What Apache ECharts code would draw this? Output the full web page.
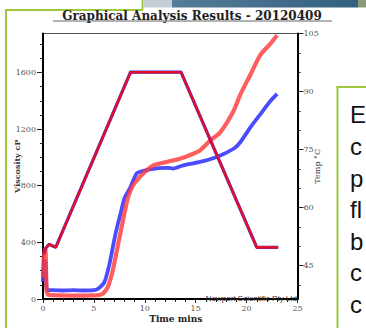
<!DOCTYPE html>
<html><head><meta charset="utf-8">
<script src="https://cdn.jsdelivr.net/npm/echarts@6/dist/echarts.min.js"></script>
<style>html,body{margin:0;padding:0;background:#fff}#c{width:366px;height:328px}</style>
</head><body><div id="c"></div>
<script>
// ---- data ----
const viscRedTime = [0, 0.1, 0.25, 0.35, 0.5, 1, 2, 3, 4, 5, 5.5, 5.87, 6.36, 6.85, 7.18, 7.51, 7.84, 8.33, 8.86, 9.52, 10.18, 10.83, 12.15, 13.46, 14.77, 15.43, 16.42, 17.41, 18.72, 19.38, 20.37, 21.35, 22.3, 23.0];
const viscRed     = [150, 350, 340, 60, 30, 27, 25, 24, 24, 25, 28, 37, 84, 200, 316, 433, 549, 712, 805, 863, 909, 944, 968, 991, 1026, 1049, 1119, 1177, 1328, 1444, 1584, 1724, 1800, 1863];
const viscBlueTime = [0, 0.1, 0.25, 0.35, 0.5, 1, 2, 3, 4, 5, 5.37, 6.03, 6.53, 6.85, 7.18, 7.67, 8.0, 8.53, 9.19, 9.52, 10.5, 12.15, 12.8, 13.79, 15.43, 17.08, 18.72, 19.38, 20.37, 21.35, 22.34, 23.0];
const viscBlue     = [120, 270, 260, 75, 62, 62, 60, 62, 60, 62, 70, 119, 246, 363, 479, 619, 712, 782, 886, 898, 916, 926, 921, 944, 968, 1003, 1061, 1107, 1212, 1305, 1398, 1449];
const tempTime = [0.05, 0.3, 0.6, 1.25, 8.6, 13.56, 21.0, 23.1];
const temp     = [48, 49.6, 50.5, 49.7, 95, 95, 49.7, 49.7];

const timeTickLabels = [0, 5, 10, 15, 20, 25];
const viscTickLabels = [0, 400, 800, 1200, 1600];
const tempTickLabels = [45, 60, 75, 90, 105];

const titleText = 'Graphical Analysis Results - 20120409';
const xName = 'Time mins';
const yLeftName = 'Viscosity cP';
const yRightName = 'Temp °C';
const creditText = 'Newport Scientific Pty Ltd';
const sideText = ['E', 'c', 'p', 'fl', 'b', 'c', 'c'];

// ---- helpers ----
const zip = (a, b) => a.map((v, i) => [v, b[i]]);
const viscMinor = []; for (let v = 0; v <= 1800; v += 100) viscMinor.push(v);
const tempMinor = []; for (let v = 40; v <= 105; v += 5) tempMinor.push(v);
const plain = v => String(v);

const serif = 'DejaVu Serif';
const labelStyle = { fontFamily: serif, fontSize: 8, color: '#555', formatter: plain };
const green = '#9fc93c';

const chart = echarts.init(document.getElementById('c'), null, { renderer: 'svg' });
chart.setOption({
  animation: false,
  backgroundColor: '#fff',
  grid: { left: 43, right: 68.5, top: 33.5, bottom: 26, show: true, borderColor: '#555', borderWidth: 1, backgroundColor: 'transparent' },
  xAxis: {
    type: 'value', min: 0, max: 25, interval: 5,
    name: xName, nameLocation: 'middle', nameGap: 15, nameMoveOverlap: false,
    nameTextStyle: { fontFamily: serif, fontSize: 9, fontWeight: 'bold', color: '#222', padding: [0, 0, 0, 11] },
    axisLine: { show: true, onZero: false, lineStyle: { color: '#000', width: 2 } },
    axisTick: { show: true, length: 4, lineStyle: { color: '#222' } },
    minorTick: { show: true, splitNumber: 5, length: 3, lineStyle: { color: '#222' } },
    axisLabel: { ...labelStyle, margin: 5, customValues: timeTickLabels },
    splitLine: { show: false }, minorSplitLine: { show: false }
  },
  yAxis: [
    {
      type: 'value', min: 0, max: 1875, position: 'left',
      name: yLeftName, nameLocation: 'middle', nameGap: 22, nameRotate: 90, nameMoveOverlap: false,
      nameTextStyle: { fontFamily: serif, fontSize: 8, fontWeight: 'bold', color: '#333' },
      axisLine: { show: true, onZero: false, lineStyle: { color: '#000', width: 2 } },
      axisTick: { show: true, customValues: viscMinor, length: 3, lineStyle: { color: '#222' } },
      axisLabel: { ...labelStyle, margin: 7, customValues: viscTickLabels },
      splitLine: { show: false }
    },
    {
      type: 'value', min: 36.36, max: 105, position: 'right',
      name: yRightName, nameLocation: 'middle', nameGap: 16, nameRotate: 90, nameMoveOverlap: false,
      nameTextStyle: { fontFamily: serif, fontSize: 8, color: '#333' },
      axisLine: { show: true, onZero: false, lineStyle: { color: '#000', width: 2 } },
      axisTick: { show: true, customValues: tempMinor, length: 3, lineStyle: { color: '#222' } },
      axisLabel: { ...labelStyle, margin: 6, customValues: tempTickLabels },
      splitLine: { show: false }
    },
    {
      type: 'value', min: 0, max: 1875, position: 'left',
      axisLine: { show: false }, axisLabel: { show: false }, splitLine: { show: false },
      axisTick: { show: true, customValues: viscTickLabels, length: 6, lineStyle: { color: '#222' } }
    },
    {
      type: 'value', min: 36.36, max: 105, position: 'right',
      axisLine: { show: false }, axisLabel: { show: false }, splitLine: { show: false },
      axisTick: { show: true, customValues: tempTickLabels, length: 6, lineStyle: { color: '#222' } }
    }
  ],
  series: [
    { type: 'line', yAxisIndex: 0, data: zip(viscBlueTime, viscBlue), showSymbol: false, smooth: 0.2,
      lineStyle: { color: '#3838ff', width: 3.8, opacity: 0.9 } },
    { type: 'line', yAxisIndex: 0, data: zip(viscRedTime, viscRed), showSymbol: false, smooth: 0.2,
      lineStyle: { color: '#ff3b3b', width: 4.2, opacity: 0.82 } },
    { type: 'line', yAxisIndex: 1, data: zip(tempTime, temp), showSymbol: false,
      lineStyle: { color: '#3030ff', width: 3.2 } },
    { type: 'line', yAxisIndex: 1, data: zip(tempTime, temp), showSymbol: false,
      lineStyle: { color: '#e0102a', width: 2.6 } }
  ],
  graphic: [
    // slide decorations
    { type: 'rect', shape: { x: 5, y: 9, width: 2, height: 319 }, style: { fill: green } },
    { type: 'rect', shape: { x: 5, y: 9, width: 138, height: 2 }, style: { fill: green } },
    { type: 'rect', shape: { x: 141.5, y: 0, width: 2, height: 10 }, style: { fill: green } },
    { type: 'rect', shape: { x: 143.5, y: 0, width: 29, height: 7.5 }, style: { fill: '#c3cdd3' } },
    { type: 'rect', shape: { x: 172, y: 0, width: 186, height: 7.5 },
      style: { fill: new echarts.graphic.LinearGradient(0, 0, 1, 0, [{ offset: 0, color: '#557c98' }, { offset: 1, color: '#33607f' }]) } },
    { type: 'rect', shape: { x: 358, y: 0, width: 8, height: 7.5 }, style: { fill: '#8a9a78' } },
    { type: 'rect', shape: { x: 336.5, y: 86, width: 2, height: 242 }, style: { fill: green } },
    { type: 'rect', shape: { x: 336.5, y: 86, width: 30, height: 2 }, style: { fill: green } },
    { type: 'text', x: 350, y: 99, style: { text: sideText.join('\n'), font: '24px "Liberation Sans"', lineHeight: 31.6, fill: '#111', textAlign: 'left', textVerticalAlign: 'top' } },
    // chart title and credit
    { type: 'text', x: 192, y: 15.5, style: { text: titleText, font: 'bold 12px "DejaVu Serif"', fill: '#222', textAlign: 'center', textVerticalAlign: 'middle' } },
    { type: 'rect', shape: { x: 53, y: 20.5, width: 279, height: 1 }, style: { fill: '#666' } },
    { type: 'text', x: 297, y: 302, z: 100, style: { text: creditText, font: '8px "Liberation Sans"', fill: '#333', textAlign: 'right', textVerticalAlign: 'bottom' } }
  ]
});
</script></body></html>
